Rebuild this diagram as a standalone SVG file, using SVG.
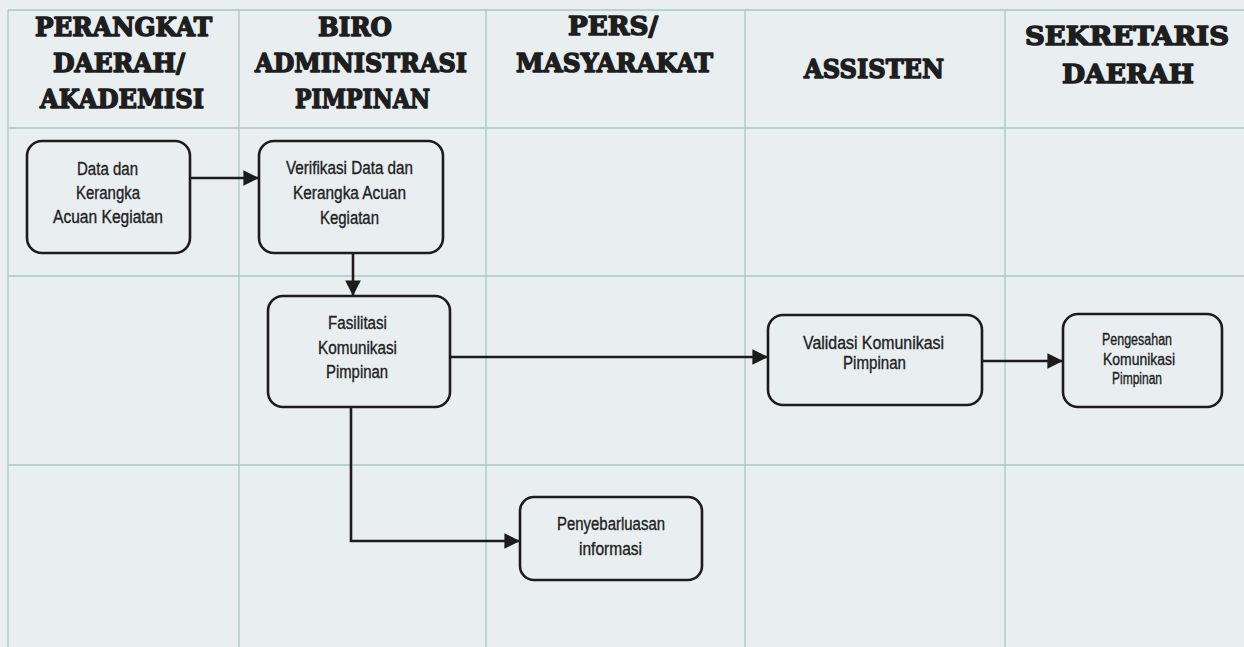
<svg xmlns="http://www.w3.org/2000/svg" width="1244" height="647" viewBox="0 0 1244 647">
<style>
.bg{fill:#e9eef1}
.grid{stroke:#a9c9c6;stroke-width:1.3;fill:none}
.hd{font-family:"DejaVu Serif","Liberation Serif",serif;font-weight:bold;font-size:26px;fill:#1e1e1e;stroke:#1e1e1e;stroke-width:1.5px;stroke-linejoin:round}
.box{fill:none;stroke:#1c1c1c;stroke-width:2.6}
.tx{font-family:"Liberation Sans",Arial,sans-serif;font-size:17.5px;fill:#222;stroke:#222;stroke-width:0.35px}
.tx2{font-family:"Liberation Sans",Arial,sans-serif;font-size:16px;fill:#222;stroke:#222;stroke-width:0.35px}
.con{fill:none;stroke:#1c1c1c;stroke-width:2.6}
</style>
<defs>
<marker id="ah" viewBox="0 0 10 10" refX="10" refY="5" markerWidth="7" markerHeight="6" markerUnits="strokeWidth" orient="auto">
<path d="M0,0 L10,5 L0,10 Z" fill="#1c1c1c"/>
</marker>
</defs>
<rect class="bg" x="0" y="0" width="1244" height="647"/>
<g id="grid">
<path class="grid" d="M8,10 H1244 M8,128 H1244 M8,276 H1244 M8,465 H1244"/>
<path class="grid" d="M8,10 V647 M239,10 V647 M486,10 V647 M745,10 V647 M1005,10 V647"/>
</g>
<g id="headers">
<text class="hd" x="35" y="36" textLength="177" lengthAdjust="spacingAndGlyphs">PERANGKAT</text>
<text class="hd" x="53" y="72" textLength="132" lengthAdjust="spacingAndGlyphs">DAERAH/</text>
<text class="hd" x="40" y="108" textLength="164" lengthAdjust="spacingAndGlyphs">AKADEMISI</text>
<text class="hd" x="318" y="36" textLength="74" lengthAdjust="spacingAndGlyphs">BIRO</text>
<text class="hd" x="255" y="72" textLength="212" lengthAdjust="spacingAndGlyphs">ADMINISTRASI</text>
<text class="hd" x="295" y="108" textLength="135" lengthAdjust="spacingAndGlyphs">PIMPINAN</text>
<text class="hd" x="568" y="35" textLength="90" lengthAdjust="spacingAndGlyphs">PERS/</text>
<text class="hd" x="516" y="72" textLength="197" lengthAdjust="spacingAndGlyphs">MASYARAKAT</text>
<text class="hd" x="804" y="78" textLength="140" lengthAdjust="spacingAndGlyphs">ASSISTEN</text>
<text class="hd" x="1025" y="45" textLength="204" lengthAdjust="spacingAndGlyphs">SEKRETARIS</text>
<text class="hd" x="1062" y="83" textLength="132" lengthAdjust="spacingAndGlyphs">DAERAH</text>
</g>
<g id="connectors">
<path class="con" d="M190,178 H259" marker-end="url(#ah)"/>
<path class="con" d="M353,253 V296" marker-end="url(#ah)"/>
<path class="con" d="M450,357 H768" marker-end="url(#ah)"/>
<path class="con" d="M982,361 H1063" marker-end="url(#ah)"/>
<path class="con" d="M351,407 V541 H520" marker-end="url(#ah)"/>
</g>
<g id="n1">
<rect class="box" x="27" y="141" width="163" height="112" rx="15"/>
<text class="tx" x="77" y="175" textLength="61" lengthAdjust="spacingAndGlyphs">Data dan</text>
<text class="tx" x="76" y="199" textLength="64" lengthAdjust="spacingAndGlyphs">Kerangka</text>
<text class="tx" x="53" y="223" textLength="110" lengthAdjust="spacingAndGlyphs">Acuan Kegiatan</text>
</g>
<g id="n2">
<rect class="box" x="259" y="141" width="184" height="112" rx="15"/>
<text class="tx" x="286" y="174" textLength="127" lengthAdjust="spacingAndGlyphs">Verifikasi Data dan</text>
<text class="tx" x="293" y="199" textLength="113" lengthAdjust="spacingAndGlyphs">Kerangka Acuan</text>
<text class="tx" x="320" y="224" textLength="59" lengthAdjust="spacingAndGlyphs">Kegiatan</text>
</g>
<g id="n3">
<rect class="box" x="268" y="296" width="182" height="111" rx="15"/>
<text class="tx" x="328" y="329" textLength="59" lengthAdjust="spacingAndGlyphs">Fasilitasi</text>
<text class="tx" x="318" y="354" textLength="79" lengthAdjust="spacingAndGlyphs">Komunikasi</text>
<text class="tx" x="326" y="378" textLength="62" lengthAdjust="spacingAndGlyphs">Pimpinan</text>
</g>
<g id="n4">
<rect class="box" x="768" y="315" width="214" height="90" rx="15"/>
<text class="tx" x="803" y="349" textLength="141" lengthAdjust="spacingAndGlyphs">Validasi  Komunikasi</text>
<text class="tx" x="843" y="369" textLength="63" lengthAdjust="spacingAndGlyphs">Pimpinan</text>
</g>
<g id="n5">
<rect class="box" x="1063" y="314" width="159" height="93" rx="15"/>
<text class="tx2" x="1102" y="345" textLength="70" lengthAdjust="spacingAndGlyphs">Pengesahan</text>
<text class="tx2" x="1103" y="365" textLength="72" lengthAdjust="spacingAndGlyphs">Komunikasi</text>
<text class="tx2" x="1112" y="384" textLength="50" lengthAdjust="spacingAndGlyphs">Pimpinan</text>
</g>
<g id="n6">
<rect class="box" x="520" y="497" width="182" height="83" rx="14"/>
<text class="tx" x="557" y="530" textLength="108" lengthAdjust="spacingAndGlyphs">Penyebarluasan</text>
<text class="tx" x="579" y="555" textLength="63" lengthAdjust="spacingAndGlyphs">informasi</text>
</g>
</svg>
